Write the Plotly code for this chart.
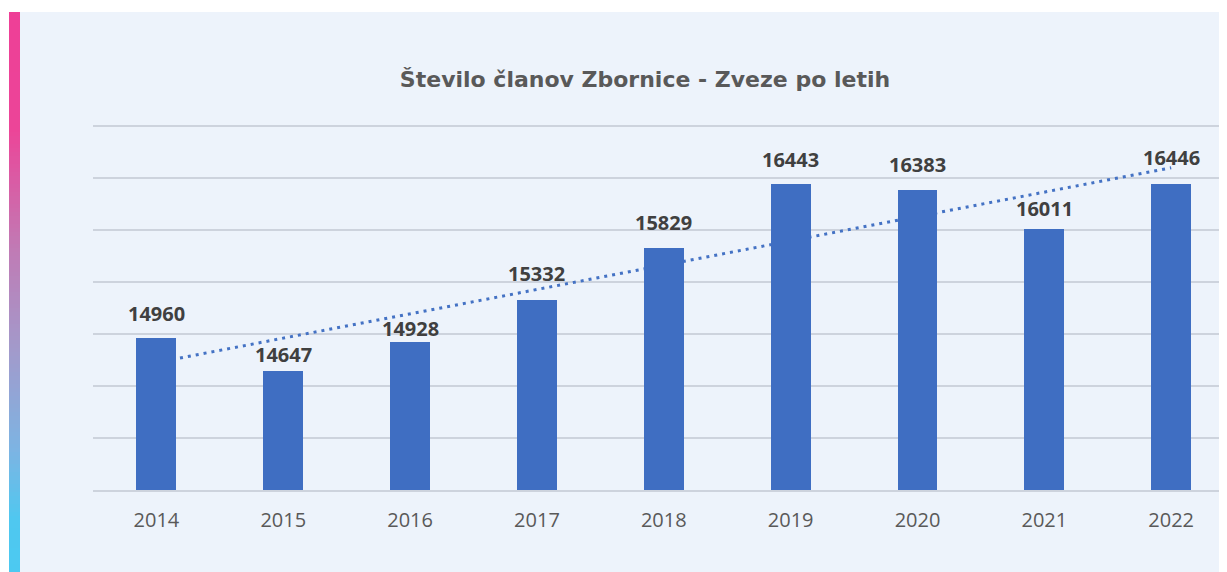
import numpy as np
import plotly.graph_objects as go

# ---- data ----
years = ["2014", "2015", "2016", "2017", "2018", "2019", "2020", "2021", "2022"]
members = [14960, 14647, 14928, 15332, 15829, 16443, 16383, 16011, 16446]
title_text = "Število članov Zbornice - Zveze po letih"

# label offsets (px above bar top, to label centre) - styling
label_offsets = [25, 16.5, 13, 26, 25.5, 25, 26, 21, 26]

# ---- layout geometry (page body has an 8px margin) ----
OFF = 8
W, H = 1227 - OFF, 572 - OFF
L, R, T, B = 93 - OFF, 0, 116 - OFF, 82
PW, PH = W - L - R, H - T - B
Y_RANGE = [13500, 17100]
X_RANGE = [-0.5, 8.44]

BG = "#EDF3FB"
BAR = "#3F6EC2"
GRID = "#CDD3DD"

def px_x(px):  # window px -> paper
    return (px - OFF - L) / PW

def px_y(py):
    return (H - B - (py - OFF)) / PH

# trendline (linear least squares over category index)
idx = np.arange(len(members))
slope, intercept = np.polyfit(idx, np.array(members, dtype=float), 1)
trend = (intercept + slope * idx).tolist()

fig = go.Figure()
fig.add_trace(go.Scatter(
    x=years, y=trend, mode="lines",
    line=dict(color="#4472C4", width=3, dash="3px,5px"),
    hoverinfo="skip", showlegend=False, xaxis="x", yaxis="y",
))
fig.add_trace(go.Bar(
    x=years, y=members, marker=dict(color=BAR, line=dict(width=0)),
    width=0.315, showlegend=False, xaxis="x2", yaxis="y2",
))

for i, (v, off) in enumerate(zip(members, label_offsets)):
    fig.add_annotation(
        x=i, y=v, xref="x", yref="y", text="<b>%d</b>" % v, showarrow=False,
        yanchor="middle", xanchor="center", yshift=off,
        font=dict(family="Open Sans", size=20, color="#404040"),
    )

# gradient strip + white margins
stops = [(12, (0xEE, 0x3F, 0x97)), (130, (0xEC, 0x45, 0x98)), (250, (0xC0, 0x7B, 0xB5)),
         (350, (0xA2, 0x9A, 0xCB)), (450, (0x7D, 0xB4, 0xE3)), (520, (0x4F, 0xC8, 0xF0)),
         (572, (0x4C, 0xC9, 0xF1))]

def grad_color(py):
    for (y0, c0), (y1, c1) in zip(stops[:-1], stops[1:]):
        if y0 <= py <= y1:
            t = (py - y0) / (y1 - y0)
            c = [round(a + (b - a) * t) for a, b in zip(c0, c1)]
            return "rgb(%d,%d,%d)" % tuple(c)
    return "rgb(%d,%d,%d)" % stops[-1][1]

shapes = [
    dict(type="rect", xref="paper", yref="paper", x0=px_x(0), x1=px_x(1300), y0=px_y(0), y1=px_y(12),
         fillcolor="white", line=dict(width=0), layer="above"),
    dict(type="rect", xref="paper", yref="paper", x0=px_x(0), x1=px_x(9), y0=px_y(0), y1=px_y(600),
         fillcolor="white", line=dict(width=0), layer="above"),
]
step = 4
for py in range(12, 572, step):
    shapes.append(dict(type="rect", xref="paper", yref="paper",
                       x0=px_x(9), x1=px_x(20), y0=px_y(py + step + 0.5), y1=px_y(py),
                       fillcolor=grad_color(py + step / 2), line=dict(width=0), layer="above"))

fig.update_layout(
    width=W, height=H,
    margin=dict(l=L, r=R, t=T, b=B, pad=0),
    paper_bgcolor=BG, plot_bgcolor=BG,
    showlegend=False,
    bargap=0,
    title=dict(text=title_text, xref="container", yref="container",
               x=(645 - OFF) / W, y=1 - (79 - OFF) / H, xanchor="center", yanchor="middle",
               font=dict(family="DejaVu Sans", size=22, color="#595959", weight="bold")),
    xaxis=dict(type="category", categoryorder="array", categoryarray=years, range=X_RANGE,
               showgrid=False, showline=True, linecolor=GRID, linewidth=2,
               ticks="outside", ticklen=11, tickcolor="rgba(0,0,0,0)",
               tickfont=dict(family="Open Sans", size=20, color="#595959"),
               fixedrange=True),
    yaxis=dict(range=Y_RANGE, tick0=13500, dtick=500, showgrid=True, gridcolor=GRID, gridwidth=2,
               showticklabels=False, zeroline=False, showline=False, ticks=""),
    xaxis2=dict(type="category", categoryorder="array", categoryarray=years, range=X_RANGE,
                overlaying="x", visible=False),
    yaxis2=dict(range=Y_RANGE, overlaying="y", visible=False),
    shapes=shapes,
)

fig.write_html("out.html")
